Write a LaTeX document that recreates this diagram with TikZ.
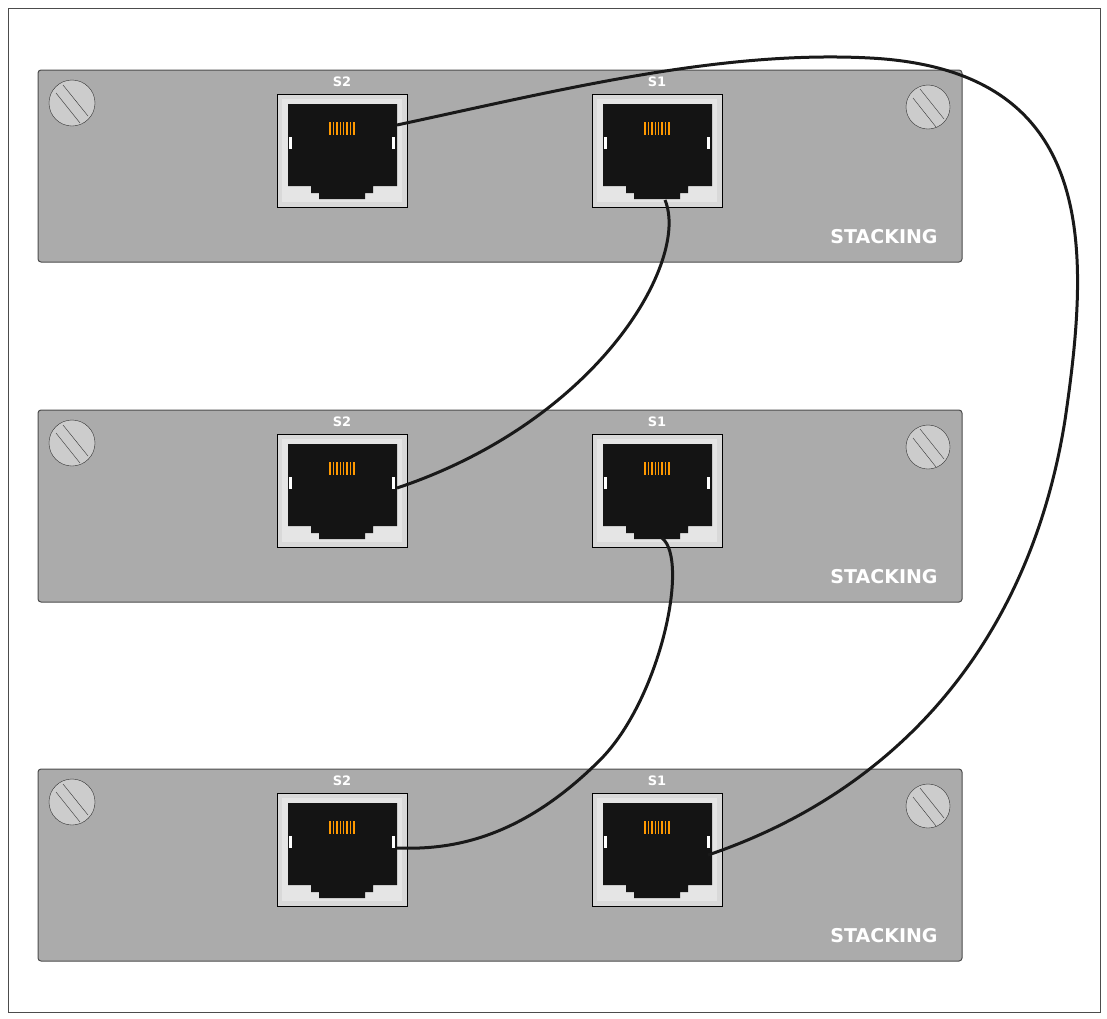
\documentclass[tikz,border=0pt]{standalone}
\usepackage{fontspec}
\setmainfont{DejaVu Sans}
\begin{document}
\begin{tikzpicture}[x=1pt,y=-1pt,
 panel/.style={fill=black!33,draw=black!70,line width=1pt,rounded corners=3pt},
 screw/.style={circle,draw=black!80,fill=black!20,minimum size=46pt,inner sep=0pt},
 cable/.style={line width=3pt,black!90},
 lbl/.style={text=white,font=\bfseries\fontsize{13}{13}\selectfont}]
\useasboundingbox (0,0) rectangle (1107,1018);
\draw[black!70,line width=0.8pt] (8,8) rectangle (1100,1012);
\foreach \i/\dy in {1/0,2/340,3/699}{
 \begin{scope}[yshift=-\dy pt]
 \draw[panel] (38,70) rectangle (962,262);
 \node[screw] (sl\i) at (72,103) {};
 \draw[black!80] (56,93) -- (80,123) (63,85) -- (88,116);
 \node[screw,minimum size=44pt] (sr\i) at (928,107) {};
 \draw[black!80] (913,98) -- (936,127) (920,89) -- (944,119);
 \node[text=white,font=\bfseries\fontsize{19}{19}\selectfont] (st\i) at (884,237) {STACKING};
 \foreach \p/\x/\n in {b/277/S2,a/592/S1}{
  \draw[fill=white!85!black,draw=black,line width=1pt] (\x,94) rectangle +(130,113);
  \fill[black!10] (\x+5,99) rectangle +(120,103);
  \fill[black!92] (\x+11,104) -- (\x+120,104) -- (\x+120,186) -- (\x+96,186) -- (\x+96,193) -- (\x+88,193) -- (\x+88,199) -- (\x+42,199) -- (\x+42,193) -- (\x+34,193) -- (\x+34,186) -- (\x+11,186) -- cycle;
  \foreach \k in {0,...,7} \draw[orange!80!yellow,line width=1.4pt] (\x+53+\k*3.4,122) -- (\x+53+\k*3.4,135);
  \fill[white] (\x+12,137) rectangle +(3,12);
  \fill[white] (\x+115,137) rectangle +(3,12);
  \node[lbl] (\p\i) at (\x+65,82) {\n};
 }
 \end{scope}}
\coordinate (b1r) at (397,125);
\coordinate (a1d) at (665,200);
\coordinate (b2r) at (397,488);
\coordinate (a2d) at (662,538);
\coordinate (b3r) at (397,848);
\coordinate (a3r) at (708,855);
\draw[cable] (b1r) .. controls (560,90) and (720,50) .. (870,58) .. controls (1100,70) and (1090,250) .. (1065,420) .. controls (1030,640) and (900,790) .. (a3r);
\draw[cable] (a1d) .. controls (690,260) and (600,420) .. (b2r);
\draw[cable] (a2d) .. controls (690,560) and (660,700) .. (600,760) .. controls (520,840) and (450,850) .. (b3r);
\end{tikzpicture}
\end{document}
